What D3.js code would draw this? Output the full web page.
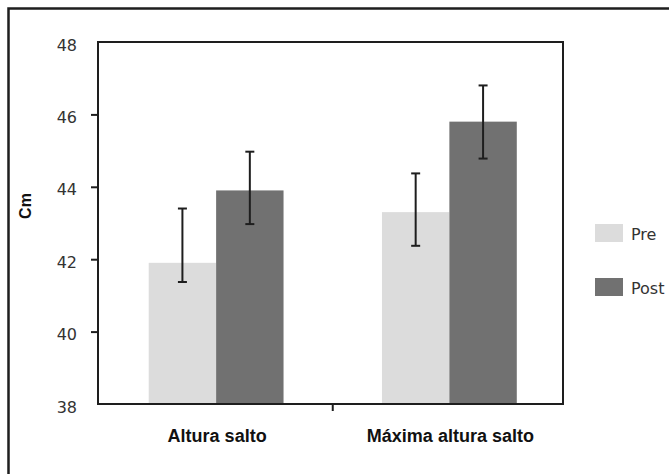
<!DOCTYPE html>
<html>
<head>
<meta charset="utf-8">
<script src="https://cdn.jsdelivr.net/npm/d3@7/dist/d3.min.js"></script>
<style>
  body { margin: 0; background: #fff; }
  svg { display: block; }
</style>
</head>
<body>
<div id="chart-area"></div>
<script>
// data
var categories = ["Altura salto", "Máxima altura salto"];
var seriesNames = ["Pre", "Post"];
var preValues = [41.9, 43.3];
var postValues = [43.9, 45.8];
var preErrLow = [41.37, 42.37];
var preErrHigh = [43.4, 44.37];
var postErrLow = [42.97, 44.78];
var postErrHigh = [44.97, 46.8];
var yTicks = [38, 40, 42, 44, 46, 48];

var colors = { Pre: "#dcdcdc", Post: "#717171" };
var ink = "#1e1e1e";

var W = 669, H = 474;
var plot = { left: 98, top: 42, right: 563, bottom: 404 };

var svg = d3.select("#chart-area").append("svg")
    .attr("width", W)
    .attr("height", H);

// outer frame (right and bottom run off the page)
svg.append("path")
    .attr("d", "M8.5," + H + "V8.5H" + W)
    .attr("fill", "none")
    .attr("stroke", ink)
    .attr("stroke-width", 2.5);

var data = categories.map(function(c, i) {
    return {
        name: c,
        bars: [
            { key: "Pre", value: preValues[i], lo: preErrLow[i], hi: preErrHigh[i] },
            { key: "Post", value: postValues[i], lo: postErrLow[i], hi: postErrHigh[i] }
        ]
    };
});

// scales
var y = d3.scaleLinear()
    .domain([38, 48])
    .range([plot.bottom, plot.top]);

var x0 = d3.scaleBand()
    .domain(categories)
    .range([99.5, 566])
    .padding(0);

var x1 = d3.scaleBand()
    .domain(seriesNames)
    .range([0, x0.bandwidth()])
    .paddingInner(0)
    .paddingOuter(0.73);

// bars
var groups = svg.selectAll(".group")
    .data(data)
    .enter().append("g")
    .attr("class", "group")
    .attr("transform", function(d) { return "translate(" + x0(d.name) + ",0)"; });

groups.selectAll("rect")
    .data(function(d) { return d.bars; })
    .enter().append("rect")
    .attr("x", function(d) { return x1(d.key); })
    .attr("width", x1.bandwidth())
    .attr("y", function(d) { return y(d.value); })
    .attr("height", function(d) { return y(38) - y(d.value); })
    .attr("fill", function(d) { return colors[d.key]; });

// error bars
var err = groups.selectAll(".err")
    .data(function(d) { return d.bars; })
    .enter().append("g")
    .attr("class", "err")
    .attr("stroke", ink)
    .attr("stroke-width", 2);

err.append("line")
    .attr("x1", function(d) { return x1(d.key) + x1.bandwidth() / 2; })
    .attr("x2", function(d) { return x1(d.key) + x1.bandwidth() / 2; })
    .attr("y1", function(d) { return y(d.hi); })
    .attr("y2", function(d) { return y(d.lo); });

["hi", "lo"].forEach(function(k) {
    err.append("line")
        .attr("x1", function(d) { return x1(d.key) + x1.bandwidth() / 2 - 4.5; })
        .attr("x2", function(d) { return x1(d.key) + x1.bandwidth() / 2 + 4.5; })
        .attr("y1", function(d) { return y(d[k]); })
        .attr("y2", function(d) { return y(d[k]); });
});

// plot frame
svg.append("rect")
    .attr("x", plot.left)
    .attr("y", plot.top)
    .attr("width", plot.right - plot.left)
    .attr("height", plot.bottom - plot.top)
    .attr("fill", "none")
    .attr("stroke", ink)
    .attr("stroke-width", 2);

// y axis
var yAxisCall = d3.axisLeft(y)
    .tickValues(yTicks)
    .tickSize(7)
    .tickPadding(14)
    .tickFormat(d3.format("d"));

var yAxis = svg.append("g")
    .attr("class", "y axis")
    .attr("transform", "translate(" + plot.left + ",0)")
    .call(yAxisCall);

yAxis.select(".domain").remove();
yAxis.selectAll(".tick line")
    .attr("stroke", ink)
    .attr("stroke-width", 2)
    .attr("opacity", function(d) { return (d === 38 || d === 48) ? 0 : 1; });
yAxis.selectAll(".tick text")
    .attr("fill", "#333")
    .attr("font-family", "DejaVu Sans, sans-serif")
    .attr("font-size", "16px")
    .attr("dy", "0.5em");

// x axis: single separator tick between the groups
svg.append("line")
    .attr("x1", x0(categories[1]))
    .attr("x2", x0(categories[1]))
    .attr("y1", plot.bottom)
    .attr("y2", plot.bottom + 7)
    .attr("stroke", ink)
    .attr("stroke-width", 2);

svg.selectAll(".xlabel")
    .data(categories)
    .enter().append("text")
    .attr("class", "xlabel")
    .attr("x", function(d) { return x0(d) + x0.bandwidth() / 2 + 1; })
    .attr("y", 442)
    .attr("text-anchor", "middle")
    .attr("font-family", "Liberation Sans, Arial, sans-serif")
    .attr("font-weight", "bold")
    .attr("font-size", "18px")
    .attr("fill", "#111")
    .text(function(d) { return d; });

// y label
svg.append("text")
    .attr("transform", "translate(31,206) rotate(-90)")
    .attr("text-anchor", "middle")
    .attr("font-family", "Liberation Sans, Arial, sans-serif")
    .attr("font-weight", "bold")
    .attr("font-size", "16px")
    .attr("fill", "#111")
    .text("Cm");

// legend
var legend = svg.selectAll(".legend")
    .data(seriesNames)
    .enter().append("g")
    .attr("class", "legend")
    .attr("transform", function(d, i) { return "translate(595," + (224 + i * 54) + ")"; });

legend.append("rect")
    .attr("width", 28)
    .attr("height", 18)
    .attr("fill", function(d) { return colors[d]; });

legend.append("text")
    .attr("x", 36)
    .attr("y", 16)
    .attr("font-family", "DejaVu Sans, sans-serif")
    .attr("font-size", "16px")
    .attr("fill", "#333")
    .text(function(d) { return d; });
</script>
</body>
</html>
